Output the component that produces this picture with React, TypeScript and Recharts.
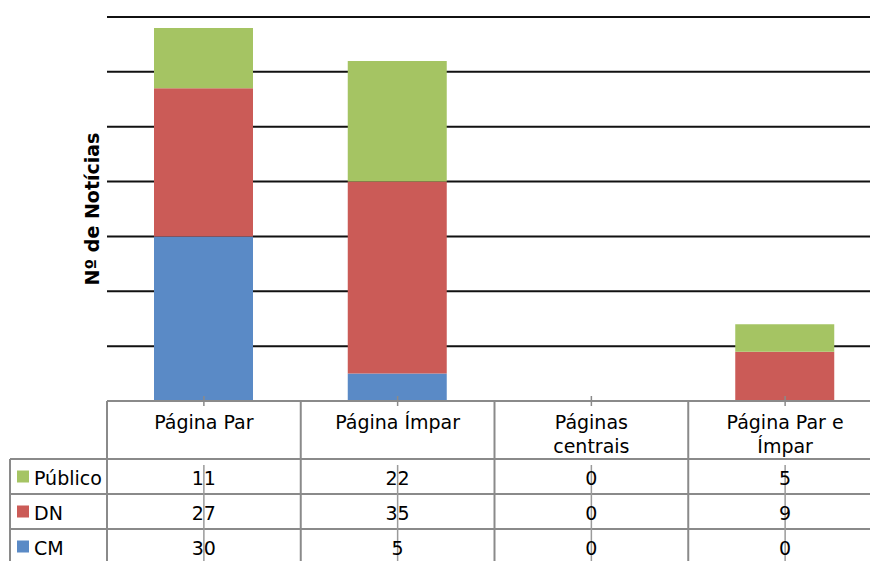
import { Bar, BarChart, CartesianGrid, XAxis, YAxis } from "recharts";

const categories = ["Página Par", "Página Ímpar", "Páginas centrais", "Página Par e Ímpar"];
const publico = [11, 22, 0, 5];
const dn = [27, 35, 0, 9];
const cm = [30, 5, 0, 0];
const yTicks = [0, 10, 20, 30, 40, 50, 60, 70];

// table rows, top to bottom
const series = [
  { key: "Público", values: publico, color: "#a5c463" },
  { key: "DN", values: dn, color: "#cb5b57" },
  { key: "CM", values: cm, color: "#5a8ac6" },
];

const data = categories.map((name, i) => ({ name, CM: cm[i], DN: dn[i], Público: publico[i] }));

const CHART_W = 900;
const CHART_H = 561;
const LEFT = 107;
const RIGHT = 18;
const BAND = (CHART_W - LEFT - RIGHT) / categories.length;
const HEAD_H = 58;
const ROW_H = 35;
const TABLE_H = 160;
const GRAY = "#8a8a8a";
const FONT = "'DejaVu Sans', Verdana, sans-serif";

function wrap(label: string, max = 14) {
  const lines: string[] = [];
  let cur = "";
  label.split(" ").forEach((w) => {
    const next = cur ? cur + " " + w : w;
    if (next.length > max && cur) {
      lines.push(cur);
      cur = w;
    } else cur = next;
  });
  if (cur) lines.push(cur);
  return lines;
}

function TableTick(props: any) {
  const { x, y, payload, index } = props;
  const half = BAND / 2;
  const i = payload.index ?? index;
  const rowTops = series.map((_, r) => y + HEAD_H + r * ROW_H);
  return (
    <g fontFamily={FONT} fontSize={19}>
      <line x1={x} x2={x} y1={y - 5} y2={y + 5} stroke={GRAY} strokeWidth={1.5} />
      {index === 0 && (
        <g>
          <line x1={x - half} x2={x - half} y1={y} y2={y + TABLE_H} stroke={GRAY} strokeWidth={2} />
          <line x1={10} x2={10} y1={y + HEAD_H} y2={y + TABLE_H} stroke={GRAY} strokeWidth={2} />
          {series.map((s, r) => (
            <g key={s.key}>
              <line x1={10} x2={x - half} y1={rowTops[r]} y2={rowTops[r]} stroke={GRAY} strokeWidth={2} />
              <rect x={17} y={rowTops[r] + ROW_H / 2 - 6} width={12} height={12} fill={s.color} />
              <text x={34} y={rowTops[r] + 26} fill="#000">
                {s.key}
              </text>
            </g>
          ))}
        </g>
      )}
      <line x1={x + half} x2={x + half} y1={y} y2={y + TABLE_H} stroke={GRAY} strokeWidth={2} />
      {rowTops.map((t, r) => (
        <line key={r} x1={x - half} x2={x + half} y1={t} y2={t} stroke={GRAY} strokeWidth={2} />
      ))}
      <line x1={x} x2={x} y1={y + 64} y2={y + TABLE_H} stroke="#9a9a9a" strokeWidth={1.5} />
      {wrap(payload.value).map((ln, k) => (
        <text key={k} x={x} y={y + 28 + k * 24} textAnchor="middle" fill="#000">
          {ln}
        </text>
      ))}
      {series.map((s, r) => (
        <text key={s.key} x={x} y={rowTops[r] + 26} textAnchor="middle" fill="#000">
          {s.values[i]}
        </text>
      ))}
    </g>
  );
}

function YTitle(props: any) {
  const vb = props.viewBox;
  const x = vb.x + vb.width - 8;
  const y = vb.y + vb.height / 2;
  return (
    <text
      x={x}
      y={y}
      textAnchor="middle"
      transform={`rotate(-90 ${x} ${y})`}
      fontFamily={FONT}
      fontWeight="bold"
      fontSize={19}
      fill="#000"
    >
      Nº de Notícias
    </text>
  );
}

export default function App() {
  return (
    <div
      style={{
        position: "fixed",
        left: 0,
        top: 0,
        width: 870,
        height: 561,
        overflow: "hidden",
        background: "#fff",
      }}
    >
      <BarChart width={CHART_W} height={CHART_H} data={data} margin={{ top: 17, right: RIGHT, bottom: 0, left: 0 }}>
        <CartesianGrid vertical={false} stroke="#111" strokeWidth={2} />
        <YAxis
          width={LEFT}
          domain={[0, 70]}
          ticks={yTicks}
          tick={() => <g />}
          axisLine={false}
          tickLine={false}
          label={{ content: (p: any) => <YTitle {...p} /> }}
        />
        <XAxis
          dataKey="name"
          height={TABLE_H}
          interval={0}
          tickSize={0}
          tickMargin={0}
          tickLine={false}
          axisLine={{ stroke: GRAY, strokeWidth: 2 }}
          tick={(p: any) => <TableTick {...p} />}
        />
        <Bar dataKey="CM" stackId="a" fill="#5a8ac6" barSize={99} isAnimationActive={false} />
        <Bar dataKey="DN" stackId="a" fill="#cb5b57" barSize={99} isAnimationActive={false} />
        <Bar dataKey="Público" stackId="a" fill="#a5c463" barSize={99} isAnimationActive={false} />
      </BarChart>
    </div>
  );
}
